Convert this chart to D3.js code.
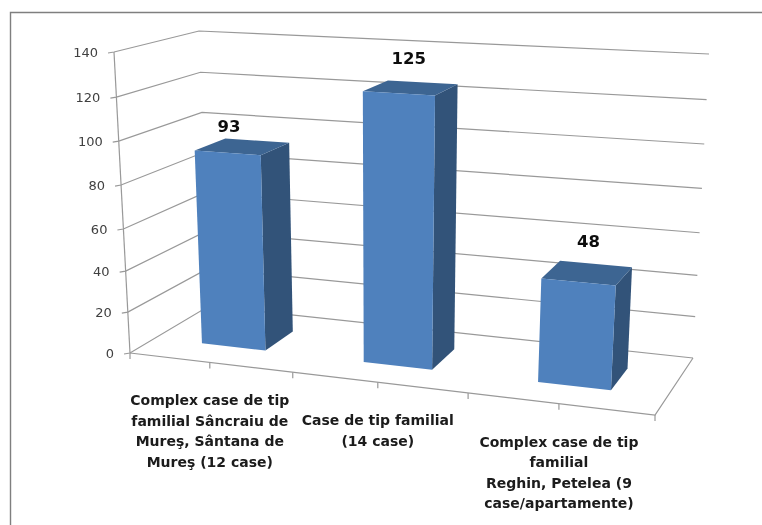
<!DOCTYPE html>
<html>
<head>
<meta charset="utf-8">
<script src="https://cdn.jsdelivr.net/npm/d3@7"></script>
<style>html,body{margin:0;padding:0;background:#fff}svg{display:block}</style>
</head>
<body>
<svg id="chart" width="762" height="525"></svg>
<script>
const categoryLines = [
  ["Complex case de tip", "familial Sâncraiu de", "Mureş, Sântana de", "Mureş (12 case)"],
  ["Case de tip familial", "(14 case)"],
  ["Complex case de tip", "familial", "Reghin, Petelea (9", "case/apartamente)"]
];
const categoryIds = ["sancraiu", "familial", "reghin"];
const values = [93, 125, 48];
const valueTicks = [0, 20, 40, 60, 80, 100, 120, 140];

// Perspective calibration of the chart box
const tickHeightFractions = [0, .136, .272, .412, .558, .704, .85, 1];
const floorTickFractions = [0, .152, .31, .472, .644, .817, 1];
const boxCorners = {
  fl0: [130, 353], fl1: [114, 52], fr0: [655, 415], fr1: [674, 83],
  bl0: [209, 306], bl1: [199, 31], br0: [693, 358], br1: [709, 54]
};

const width = 762, height = 525;
const svg = d3.select("#chart");
const defs = svg.append("defs");
defs.append("filter").attr("id", "soft").attr("x", "-5%").attr("y", "-5%").attr("width", "110%").attr("height", "110%")
  .append("feGaussianBlur").attr("stdDeviation", 0.4);
const root = svg.append("g").attr("filter", "url(#soft)");

const wScale = d3.scaleLinear().domain(valueTicks).range(tickHeightFractions);
const uScale = d3.scaleLinear().domain(d3.range(7).map(i => i / 6)).range(floorTickFractions);
const xBand = d3.scaleBand().domain(categoryIds).range([0, 1]).paddingInner(.6).paddingOuter(.3);

function project(t, v, value) {
  const u = uScale(t), w = wScale(value), c = boxCorners;
  const mix = (a, b, k) => a + (b - a) * k;
  return [0, 1].map(i => {
    const f0 = mix(c.fl0[i], c.fr0[i], u), f1 = mix(c.fl1[i], c.fr1[i], u);
    const b0 = mix(c.bl0[i], c.br0[i], u), b1 = mix(c.bl1[i], c.br1[i], u);
    return mix(mix(f0, b0, v), mix(f1, b1, v), w);
  });
}
const line = d3.line();

// outer frame
root.append("path").attr("d", "M10.5,525V12.5H762").attr("fill", "none").attr("stroke", "#7f7f7f").attr("stroke-width", 1.4);

const gridColor = "#999999";
const grid = root.append("g").attr("fill", "none").attr("stroke", gridColor).attr("stroke-width", 1.2);

// gridlines on side wall and back wall, with tick stubs
valueTicks.forEach(val => {
  const a = project(0, 0, val), b = project(0, 1, val), c = project(1, 1, val);
  grid.append("path").attr("d", line([[a[0] - 6, a[1] + 1], a, b, c]));
});
// front-left value axis
grid.append("path").attr("d", line([project(0, 0, 0), project(0, 0, 140)]));
// floor front edge and right edge
grid.append("path").attr("d", line([project(0, 0, 0), project(1, 0, 0), project(1, 1, 0)]));
// category axis ticks
d3.range(7).forEach(i => {
  const p = project(i / 6, 0, 0);
  grid.append("path").attr("d", line([p, [p[0], p[1] + 6]]));
});

// value labels
root.append("g").selectAll("text").data(valueTicks).join("text")
  .attr("x", d => project(0, 0, d)[0] - 16)
  .attr("y", d => project(0, 0, d)[1] + 5)
  .attr("text-anchor", "end")
  .attr("font-family", "DejaVu Sans").attr("font-size", 13).attr("fill", "#404040")
  .text(d => d);

// bars
const vFront = .32, vBack = .71;
const bars = root.append("g").selectAll("g").data(values).join("g");
bars.each(function (val, i) {
  const g = d3.select(this);
  const t0 = xBand(categoryIds[i]), t1 = t0 + xBand.bandwidth();
  const face = (pts, fill) => g.append("path").attr("d", line(pts) + "Z").attr("fill", fill);
  face([project(t1, vFront, 0), project(t1, vBack, 0), project(t1, vBack, val), project(t1, vFront, val)], "#325379");
  face([project(t0, vFront, val), project(t1, vFront, val), project(t1, vBack, val), project(t0, vBack, val)], "#3e6592");
  face([project(t0, vFront, 0), project(t1, vFront, 0), project(t1, vFront, val), project(t0, vFront, val)], "#4f81bd");
});

// data labels
const labelNudges = [[2, -21], [11, -29], [11, -35]];
root.append("g").selectAll("text").data(values).join("text")
  .attr("x", (d, i) => {
    const t = xBand(categoryIds[i]) + xBand.bandwidth() / 2;
    return project(t, vFront, d)[0] + labelNudges[i][0];
  })
  .attr("y", (d, i) => {
    const t = xBand(categoryIds[i]) + xBand.bandwidth() / 2;
    return project(t, vFront, d)[1] + labelNudges[i][1];
  })
  .attr("text-anchor", "middle")
  .attr("font-family", "DejaVu Sans").attr("font-weight", "bold").attr("font-size", 16.5).attr("fill", "#111")
  .text(d => d);

// category labels
const lineStep = 20.5;
root.append("g").selectAll("text").data(categoryLines).join("text")
  .attr("text-anchor", "middle")
  .attr("font-family", "DejaVu Sans").attr("font-weight", "bold").attr("font-size", 14).attr("fill", "#1a1a1a")
  .each(function (lines, i) {
    const t = (2 * i + 1) / 6;
    const p = project(t, 0, 0);
    d3.select(this).selectAll("tspan").data(lines).join("tspan")
      .attr("x", p[0])
      .attr("y", (d, k) => p[1] + 43 + k * lineStep)
      .text(d => d);
  });
</script>
</body>
</html>
